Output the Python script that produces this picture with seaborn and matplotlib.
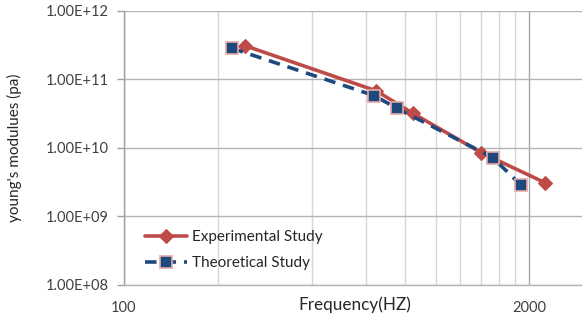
import matplotlib
matplotlib.use("Agg")
import matplotlib.pyplot as plt
import pandas as pd
import seaborn as sns
from matplotlib.ticker import FixedLocator, FuncFormatter, NullFormatter, NullLocator

# Measured data (frequency in Hz, Young's modulus in Pa)
exp_freq = [245, 645, 845, 1400, 2240]
exp_modulus = [3.1e11, 6.8e10, 3.2e10, 8.5e9, 3.1e9]
theo_freq = [222, 635, 750, 1525, 1880]
theo_modulus = [2.85e11, 5.8e10, 3.8e10, 7.2e9, 2.85e9]

series_names = ["Experimental Study", "Theoretical Study"]
x_major = [100, 2000]
x_minor = [200, 400, 600, 800, 1000, 1200, 1400, 1600, 1800]
y_ticks = [1e8, 1e9, 1e10, 1e11, 1e12]

exp_df = pd.DataFrame({"freq": exp_freq, "modulus": exp_modulus})
theo_df = pd.DataFrame({"freq": theo_freq, "modulus": theo_modulus})

sns.set_theme(style="white")
plt.rcParams["font.family"] = ["Lato", "DejaVu Sans"]

W, H = 582, 322
fig = plt.figure(figsize=(W / 100, H / 100), dpi=100)
ax = fig.add_axes([124 / W, 1 - 284.5 / H, 458 / W, 273.5 / H])

red = "#BE4B48"
blue = "#1F497D"

sns.lineplot(data=exp_df, x="freq", y="modulus", ax=ax, color=red, lw=2.6,
             marker="D", markersize=7.5, markeredgecolor=red, markeredgewidth=0.8,
             label=series_names[0], zorder=3)
sns.lineplot(data=theo_df, x="freq", y="modulus", ax=ax, color=blue, lw=2.6,
             linestyle=(0, (3.2, 2.2)), marker="s", markersize=9,
             markeredgecolor="#E6A9A8", markeredgewidth=1.2,
             label=series_names[1], zorder=4)

ax.set_xscale("log")
ax.set_yscale("log")
ax.set_xlim(100, 2953)
ax.set_ylim(1e8, 1e12)

ax.xaxis.set_major_locator(FixedLocator(x_major))
ax.xaxis.set_major_formatter(FuncFormatter(lambda v, p: f"{v:.0f}"))
ax.xaxis.set_minor_locator(FixedLocator(x_minor))
ax.xaxis.set_minor_formatter(NullFormatter())
ax.yaxis.set_major_locator(FixedLocator(y_ticks))
ax.yaxis.set_major_formatter(FuncFormatter(lambda v, p: f"{v:.2E}"))
ax.yaxis.set_minor_locator(NullLocator())

ax.grid(True, which="minor", axis="x", color="#D6D6D6", lw=1.0)
ax.grid(True, which="major", axis="x", color="#A8A8A8", lw=1.0)
ax.grid(True, which="major", axis="y", color="#B4B4B4", lw=1.0)
ax.set_axisbelow(True)

for side in ("top", "right"):
    ax.spines[side].set_visible(False)
ax.spines["left"].set_color("#A0A0A0")
ax.spines["bottom"].set_color("#B4B4B4")
ax.spines["left"].set_linewidth(1.0)
ax.spines["bottom"].set_linewidth(1.0)

ax.tick_params(axis="x", which="both", length=0, pad=12, labelsize=10.5, labelcolor="#404040")
ax.tick_params(axis="y", which="major", length=5, width=1, color="#A0A0A0", direction="out",
               pad=6, labelsize=10.5, labelcolor="#404040", left=True)

ax.set_xlabel("Frequency(HZ)", fontsize=12.3, color="#262626")
ax.xaxis.set_label_coords(0.505, -0.042)
ax.set_ylabel("young's modulues (pa)", fontsize=11, color="#262626")
ax.yaxis.set_label_coords(-0.222, 0.5)

leg = ax.legend(loc="upper left", bbox_to_anchor=(0.015, 0.248), frameon=False,
                fontsize=11, handlelength=2.8, handletextpad=0.3, labelspacing=0.75,
                labelcolor="#262626")

fig.savefig("out.png", dpi=100)
